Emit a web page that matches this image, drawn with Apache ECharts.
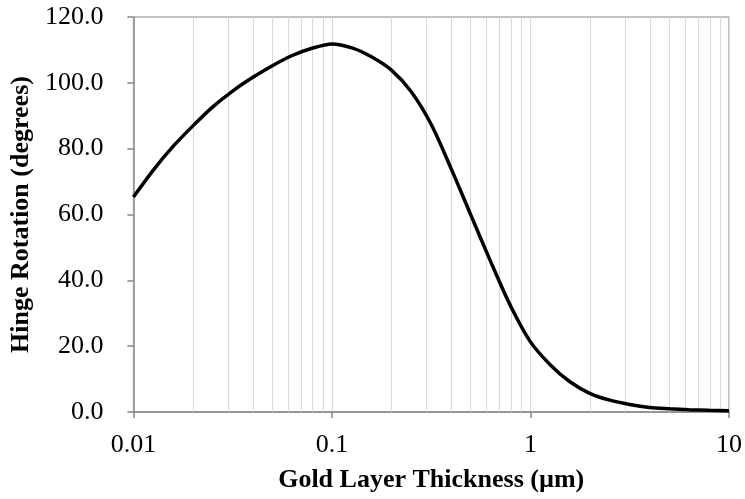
<!DOCTYPE html>
<html>
<head>
<meta charset="utf-8">
<script src="https://cdn.jsdelivr.net/npm/echarts@6/dist/echarts.min.js"></script>
<style>
  html, body { margin: 0; padding: 0; background: #fff; }
  #chart { width: 745px; height: 499px; }
</style>
</head>
<body>
<div id="chart"></div>
<script>
// thickness in µm (log axis) and hinge rotation in degrees
const thickness = [0.01, 0.0126, 0.0158, 0.02, 0.0251, 0.0316, 0.0398, 0.0501, 0.0631, 0.0794,
  0.1, 0.126, 0.158, 0.2, 0.251, 0.316, 0.398, 0.501, 0.631, 0.794,
  1, 1.26, 1.58, 2, 2.51, 3.16, 3.98, 5.01, 6.31, 7.94, 10];
const rotation = [65.3, 73.5, 80.6, 87.0, 92.7, 97.5, 101.6, 105.2, 108.3, 110.5,
  111.8, 110.6, 107.9, 103.8, 97.3, 87.4, 74.0, 59.8, 45.6, 32.2,
  21.3, 14.3, 9.2, 5.6, 3.6, 2.3, 1.4, 1.0, 0.7, 0.5, 0.4];
// minor vertical grid lines
const minorGrid = [0.02, 0.03, 0.04, 0.05, 0.06, 0.07, 0.08, 0.09,
  0.2, 0.3, 0.4, 0.5, 0.6, 0.7, 0.8, 0.9,
  2, 3, 4, 5, 6, 7, 8, 9];

const gray = '#878787';
const font = 'Liberation Serif';

const chart = echarts.init(document.getElementById('chart'), null, { renderer: 'canvas' });

chart.setOption({
  animation: false,
  grid: {
    left: 133, right: 14, top: 17, bottom: 87,
    show: true, borderColor: gray, borderWidth: 1
  },
  xAxis: {
    type: 'log',
    logBase: 10,
    min: 0.01,
    max: 10,
    name: 'Gold Layer Thickness (µm)',
    nameLocation: 'middle',
    nameGap: 55,
    nameTextStyle: { fontFamily: font, fontSize: 26, fontWeight: 'bold', color: '#000' },
    axisLine: { lineStyle: { color: gray, width: 1.5 } },
    axisTick: { show: true, length: 6, lineStyle: { color: gray, width: 1.5 } },
    axisLabel: {
      fontFamily: font, fontSize: 26, color: '#000', margin: 20,
      formatter: function (v) { return String(v); }
    },
    splitLine: { show: true, lineStyle: { color: '#d9d9d9', width: 1 } },
    minorTick: { show: false },
    minorSplitLine: { show: false }
  },
  yAxis: {
    type: 'value',
    min: 0,
    max: 120,
    interval: 20,
    name: 'Hinge Rotation (degrees)',
    nameLocation: 'middle',
    nameGap: 91,
    nameTextStyle: { fontFamily: font, fontSize: 26, fontWeight: 'bold', color: '#000' },
    axisLine: { show: true, lineStyle: { color: gray, width: 1.5 } },
    axisTick: { show: true, length: 6, lineStyle: { color: gray, width: 1.5 } },
    axisLabel: {
      fontFamily: font, fontSize: 26, color: '#000', margin: 30,
      formatter: function (v) { return v.toFixed(1); }
    },
    splitLine: { show: false }
  },
  series: [
    {
      type: 'line',
      data: [],
      z: 1,
      silent: true,
      markLine: {
        silent: true,
        symbol: ['none', 'none'],
        label: { show: false },
        lineStyle: { color: '#d9d9d9', width: 1, type: 'solid' },
        data: minorGrid.map(function (v) { return { xAxis: v }; })
      }
    },
    {
      type: 'line',
      z: 5,
      data: thickness.map(function (t, i) { return [t, rotation[i]]; }),
      showSymbol: false,
      smooth: 0.3,
      lineStyle: { color: '#000', width: 3.5 }
    }
  ]
});
</script>
</body>
</html>
